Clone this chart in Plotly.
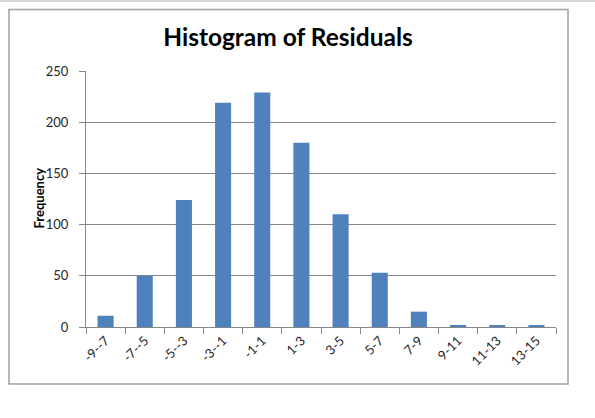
import plotly.graph_objects as go

bins = ['-9--7', '-7--5', '-5--3', '-3--1', '-1-1', '1-3', '3-5', '5-7',
        '7-9', '9-11', '11-13', '13-15']
freq = [11, 50, 124, 219, 229, 180, 110, 53, 15, 2, 1, 1]

W, H = 595, 418
L, R, T, B = 86, 39, 71, 91
pw, ph = W - L - R, H - T - B

def px(x):
    return (x - L) / pw

def py(y):
    return (H - B - y) / ph

fig = go.Figure()
fig.add_trace(go.Bar(x=bins, y=freq, marker=dict(color='#4F81BD', line=dict(width=0))))

fig.update_layout(
    width=W, height=H,
    margin=dict(l=L, r=R, t=T, b=B),
    paper_bgcolor='white', plot_bgcolor='white',
    bargap=0.59,
    showlegend=False,
    font=dict(family='Lato, Open Sans, sans-serif', size=13, color='#262626'),
    title=dict(text='<b>Histogram of Residuals</b>', xref='paper', x=px(288), xanchor='center',
               yref='container', y=1 - 37 / H, yanchor='middle',
               font=dict(family='Lato, Open Sans, sans-serif', size=24.5, color='black')),
    xaxis=dict(tickangle=-45, tickson='boundaries', ticks='outside', ticklen=6,
               tickcolor='#868686', showline=True, linecolor='#868686',
               showgrid=False, tickfont=dict(size=13)),
    yaxis=dict(range=[0, 250], dtick=50, ticks='outside', ticklen=6,
               tickcolor='#868686', showline=True, linecolor='#868686',
               showgrid=True, gridcolor='#868686', zeroline=False,
               ticklabelstandoff=8, tickfont=dict(size=13)),
    shapes=[
        dict(type='rect', xref='paper', yref='paper',
             x0=px(9), x1=px(568), y0=py(384), y1=py(9.5),
             line=dict(color='#A0A0A0', width=1.5), layer='below'),
        dict(type='line', xref='paper', yref='paper',
             x0=px(0), x1=px(W), y0=py(1), y1=py(1),
             line=dict(color='#D6D6D6', width=2)),
    ],
    annotations=[
        dict(text='<b>Frequency</b>', xref='paper', yref='paper',
             x=px(38), y=py(198.5), textangle=-90, showarrow=False,
             xanchor='center', yanchor='middle',
             font=dict(size=13, color='black')),
    ],
)

fig.write_html('out.html', config={'displayModeBar': False},
               post_script="document.body.style.margin='0';")
